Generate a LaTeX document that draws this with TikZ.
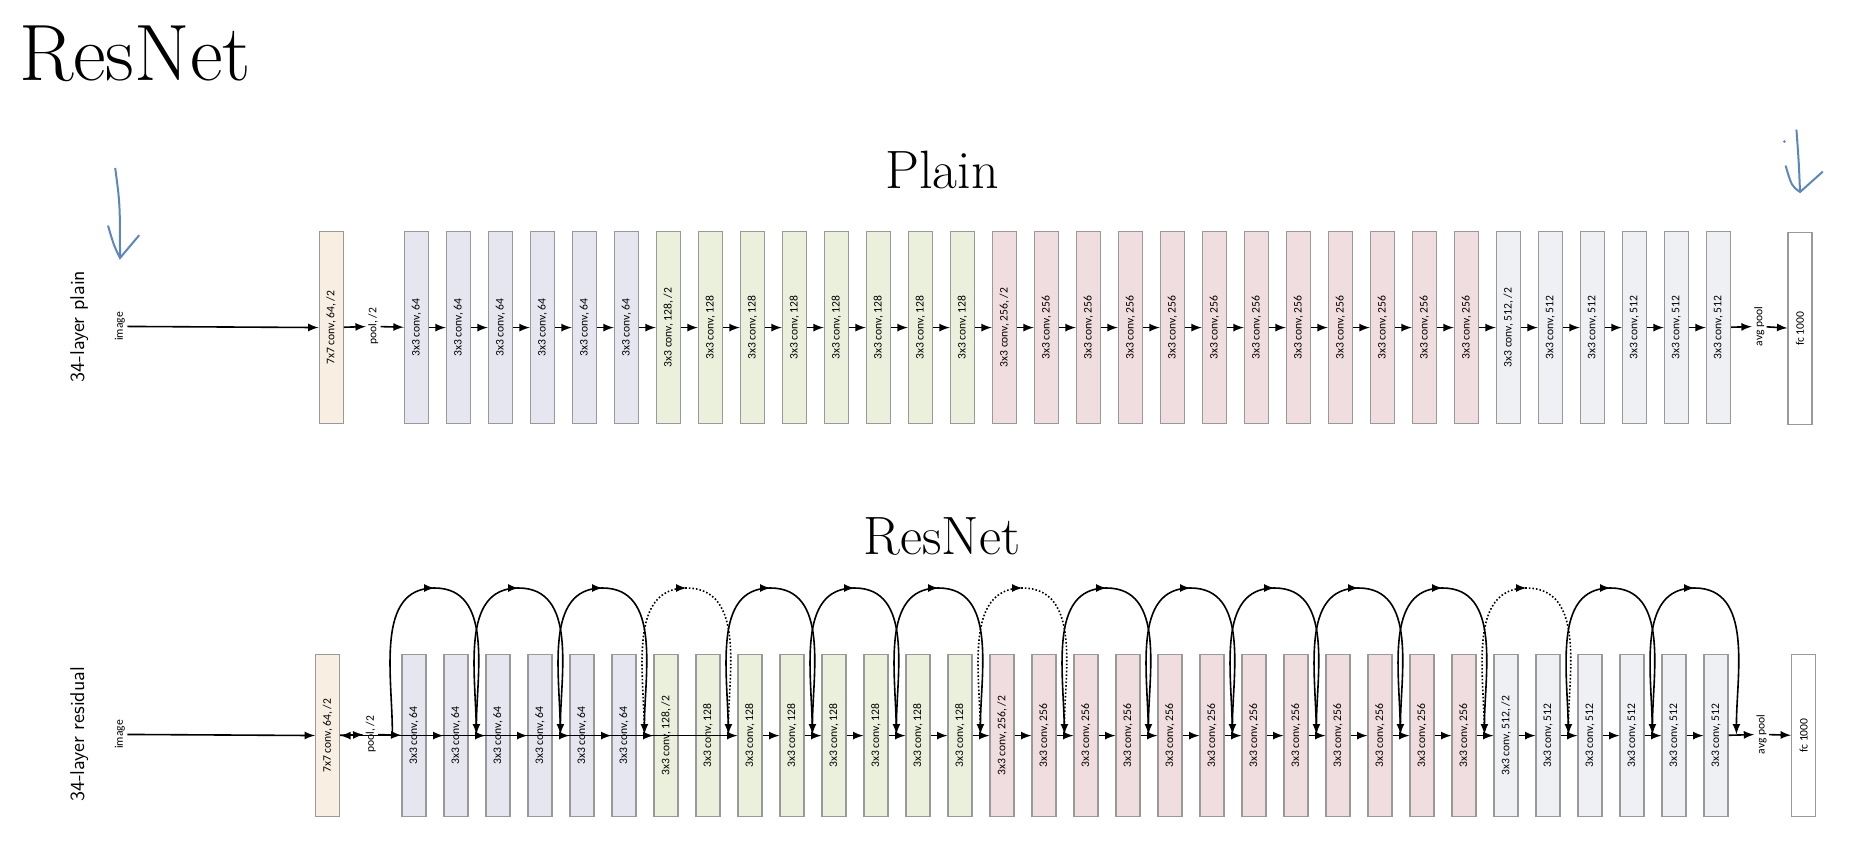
\documentclass[tikz,border=0pt]{standalone}
\usepackage{fontspec}
\newfontfamily\boxfont{Carlito}
\usetikzlibrary{decorations.markings}
\definecolor{cfirst}{HTML}{F8EEE2}
\definecolor{csixtyfour}{HTML}{E6E6F0}
\definecolor{conetwoeight}{HTML}{EBF0DC}
\definecolor{ctwofivesix}{HTML}{F0DDDF}
\definecolor{cfiveonetwo}{HTML}{EEF0F4}
\definecolor{hand}{HTML}{5B86C0}
\begin{document}
\begin{tikzpicture}[x=0.6pt, y=-0.6pt, >=latex,
  layer/.style={draw=black!40, line width=0.6pt, minimum width=12pt, inner sep=0pt, font=\boxfont\fontsize{5.8}{6}\selectfont},
  tall/.style={layer, minimum height=96pt},
  short/.style={layer, minimum height=81pt},
  lbl/.style={inner sep=1pt, font=\boxfont\fontsize{5.8}{6}\selectfont},
  skip/.style={thick, postaction={decorate}, decoration={markings, mark=at position 0.5 with {\arrow{latex}}}},
  flow/.style={->, thick}]
\useasboundingbox (0,0) rectangle (1560,715);

%titles
\node[anchor=west, font=\fontsize{40}{40}\selectfont] (title) at (10,45) {ResNet};
\node[font=\fontsize{27}{27}\selectfont] (plain) at (785,142) {Plain};
\node[font=\fontsize{27}{27}\selectfont] (res) at (785,447) {ResNet};

%hand arrows
\draw[hand, line width=1pt] (96,140) .. controls (100,170) .. (100,215);
\draw[hand, line width=1pt] (90,188) .. controls (95,205) .. (100,215) .. controls (108,205) .. (116,196);
\draw[hand, line width=1pt] (1497,108) .. controls (1499,135) .. (1500,160);
\draw[hand, line width=1pt] (1488,138) .. controls (1493,155) .. (1500,160) .. controls (1510,152) .. (1519,143);
\fill[hand] (1487,118) circle (1.2);

%plain row
\node[rotate=90, font=\sffamily\fontsize{10}{10}\selectfont] (lplain) at (66,272) {34-layer plain};
\node[lbl] (img) at (100,272) {\rotatebox{90}{image}};
\node[tall, fill=cfirst] (p7) at (276,273) {\rotatebox{90}{7x7 conv, 64, /2}};
\node[lbl] (ppool) at (311,272) {\rotatebox{90}{pool, /2}};
\draw[flow] (img) -- (p7);
\draw[flow] (p7) -- (ppool);
\foreach \t/\c [count=\i from 0] in {64/csixtyfour,64/csixtyfour,64/csixtyfour,64/csixtyfour,64/csixtyfour,64/csixtyfour,
  {128, /2}/conetwoeight,128/conetwoeight,128/conetwoeight,128/conetwoeight,128/conetwoeight,128/conetwoeight,128/conetwoeight,128/conetwoeight,
  {256, /2}/ctwofivesix,256/ctwofivesix,256/ctwofivesix,256/ctwofivesix,256/ctwofivesix,256/ctwofivesix,256/ctwofivesix,256/ctwofivesix,256/ctwofivesix,256/ctwofivesix,256/ctwofivesix,256/ctwofivesix,
  {512, /2}/cfiveonetwo,512/cfiveonetwo,512/cfiveonetwo,512/cfiveonetwo,512/cfiveonetwo,512/cfiveonetwo}
{
  \node[tall, fill=\c] (p\i) at (347+35*\i,273) {\rotatebox{90}{3x3 conv, \t}};
  \node[short, fill=\c] (r\i) at (345+35*\i,613) {\rotatebox{90}{3x3 conv, \t}};
}
\node[lbl] (pavg) at (1466,272) {\rotatebox{90}{avg pool}};
\node[tall] (pfc) at (1500,274) {\rotatebox{90}{fc 1000}};
\draw[flow] (ppool) -- (p0);
\foreach \i [evaluate=\i as \j using int(\i+1)] in {0,...,30}
  \draw[flow] (p\i) -- (p\j);
\draw[flow] (p31) -- (pavg);
\draw[flow] (pavg) -- (pfc);

%residual row
\node[rotate=90, font=\sffamily\fontsize{10}{10}\selectfont] (lres) at (66,612) {34-layer residual};
\node[lbl] (rimg) at (100,612) {\rotatebox{90}{image}};
\node[short, fill=cfirst] (r7) at (273,613) {\rotatebox{90}{7x7 conv, 64, /2}};
\node[lbl] (rpool) at (309,612) {\rotatebox{90}{pool, /2}};
\node[lbl] (ravg) at (1468,612) {\rotatebox{90}{avg pool}};
\node[short] (rfc) at (1503,613) {\rotatebox{90}{fc 1000}};
\draw[flow] (rimg) -- (r7);
\draw[flow] (r7) -- (rpool);
\draw[flow] (rpool) -- (r0);
\foreach \i [evaluate=\i as \j using int(\i+1)] in {0,...,30}
  \draw[flow] (r\i) -- (r\j);
\draw[flow] (r31) -- (ravg);
\draw[flow] (ravg) -- (rfc);

%shortcuts
\foreach \k/\s in {0/solid,1/solid,2/solid,3/densely dotted,4/solid,5/solid,6/solid,7/densely dotted,
  8/solid,9/solid,10/solid,11/solid,12/solid,13/densely dotted,14/solid,15/solid}
{
  \coordinate (a\k) at (327+70*\k,612);
  \coordinate (m\k) at (362+70*\k,490);
  \coordinate (b\k) at (397+70*\k,612);
  \draw[skip, \s, ->] (a\k) to[out=90, in=180] (m\k) to[out=0, in=90] (b\k);
}
\end{tikzpicture}
\end{document}
